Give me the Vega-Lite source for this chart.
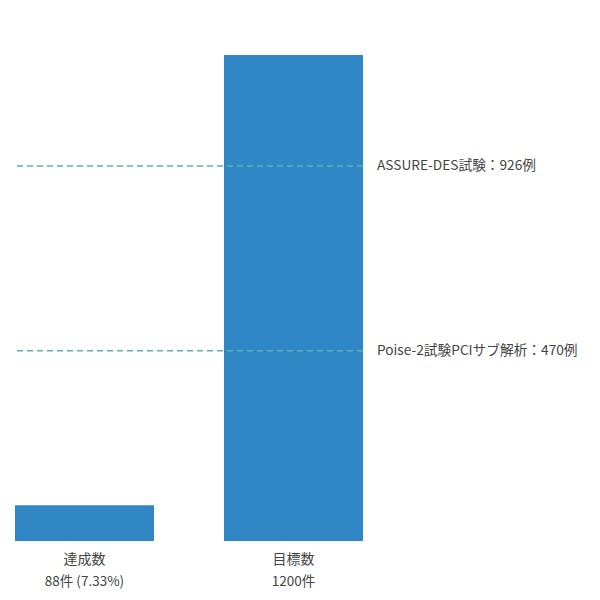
{
  "$schema": "https://vega.github.io/schema/vega-lite/v6.json",
  "width": 348,
  "height": 486,
  "padding": {"left": 14, "top": 55, "right": 5, "bottom": 5},
  "datasets": {
    "bars": [
      {"category": "達成数", "count": 88, "sub": "88件 (7.33%)"},
      {"category": "目標数", "count": 1200, "sub": "1200件"}
    ],
    "refs": [
      {"label": "ASSURE-DES試験：926例", "n": 926, "at": "目標数"},
      {"label": "Poise-2試験PCIサブ解析：470例", "n": 470, "at": "目標数"}
    ]
  },
  "encoding": {
    "x": {
      "field": "category", "type": "nominal", "sort": ["達成数", "目標数"],
      "scale": {"domain": ["達成数", "目標数"], "paddingInner": 0.335, "paddingOuter": 0},
      "axis": {"title": null, "domain": false, "ticks": false, "labelAngle": 0,
               "labelFontSize": 14, "labelPadding": 11, "labelColor": "#444"}
    }
  },
  "layer": [
    {
      "data": {"name": "bars"},
      "mark": {"type": "bar", "color": "#3186c5"},
      "encoding": {
        "y": {"field": "count", "type": "quantitative", "scale": {"domain": [0, 1200], "nice": false}, "axis": null}
      }
    },
    {
      "data": {"name": "bars"},
      "mark": {"type": "text", "fontSize": 13.5, "color": "#444", "baseline": "middle", "dy": 41},
      "encoding": {
        "y": {"datum": 0, "type": "quantitative"},
        "text": {"field": "sub"}
      }
    },
    {
      "data": {"name": "refs"},
      "mark": {"type": "rule", "color": "#5ab4ac", "strokeWidth": 1.5, "strokeDash": [6, 4]},
      "encoding": {
        "x": null,
        "y": {"field": "n", "type": "quantitative"}
      }
    },
    {
      "data": {"name": "refs"},
      "mark": {"type": "text", "fontSize": 13.7, "color": "#444", "align": "left", "baseline": "middle", "dx": 14},
      "encoding": {
        "x": {"field": "at", "type": "nominal", "sort": ["達成数", "目標数"], "bandPosition": 1},
        "y": {"field": "n", "type": "quantitative"},
        "text": {"field": "label"}
      }
    }
  ],
  "config": {
    "view": {"stroke": null},
    "axis": {"grid": false},
    "font": "Noto Sans CJK JP"
  }
}
